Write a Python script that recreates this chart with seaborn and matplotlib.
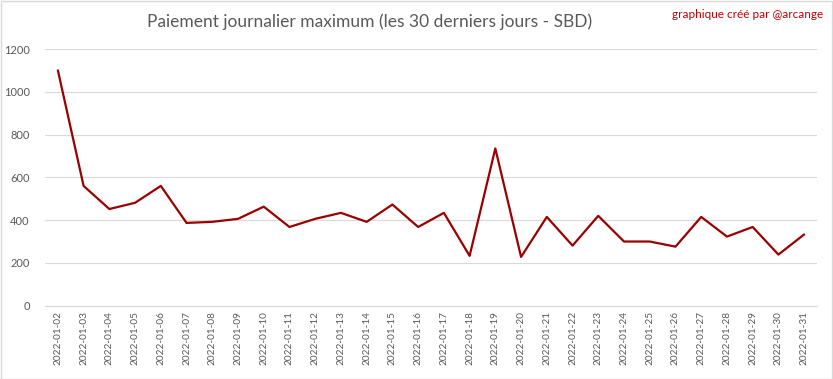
import pandas as pd
import matplotlib.pyplot as plt
import seaborn as sns

# Data
dates = [f"2022-01-{d:02d}" for d in range(2, 32)]
max_payout = [1100, 560, 452, 481, 560, 387, 392, 406, 463, 368,
              406, 434, 392, 473, 368, 434, 233, 735, 228, 415,
              281, 420, 300, 300, 276, 415, 323, 368, 239, 333]

TITLE = "Paiement journalier maximum (les 30 derniers jours - SBD)"
CREDIT = "graphique créé par @arcange"
LINE_COLOR = "#9B0000"
TEXT_COLOR = "#595959"

sns.set_style("white")
plt.rcParams['font.family'] = ['Lato', 'DejaVu Sans']

df = pd.DataFrame({"date": dates, "payout": max_payout})

fig = plt.figure(figsize=(8.33, 3.79), dpi=100)
ax = fig.add_axes([45 / 833, 1 - 305.7 / 379, 772 / 833, 256.7 / 379])

sns.lineplot(data=df, x="date", y="payout", ax=ax, color=LINE_COLOR,
             linewidth=1.6, sort=False)

ax.set_ylim(0, 1200)
ax.set_yticks(range(0, 1201, 200))
ax.set_xlim(-0.5, len(dates) - 0.5)
ax.set_xlabel("")
ax.set_ylabel("")
ax.yaxis.grid(True, color="#D9D9D9", linewidth=0.8)
ax.set_axisbelow(True)
for side in ["top", "right", "left"]:
    ax.spines[side].set_visible(False)
ax.spines["bottom"].set_color("#D9D9D9")
ax.tick_params(axis="x", rotation=90, labelsize=7.2, colors=TEXT_COLOR, length=0, pad=4)
ax.tick_params(axis="y", labelsize=8, colors=TEXT_COLOR, length=0, pad=11)

fig.text(370 / 833, 1 - 22 / 379, TITLE, ha="center", va="center",
         fontsize=12.5, color=TEXT_COLOR)
fig.text(823 / 833, 1 - 15 / 379, CREDIT, ha="right", va="center",
         fontsize=8.5, color="#C00000")

# light frame around the whole picture
fig.patches.append(plt.Rectangle((0.001, 0.001), 0.998, 0.997, transform=fig.transFigure,
                                 fill=False, edgecolor="#D9D9D9", linewidth=1))

fig.savefig("out.png", dpi=100)
